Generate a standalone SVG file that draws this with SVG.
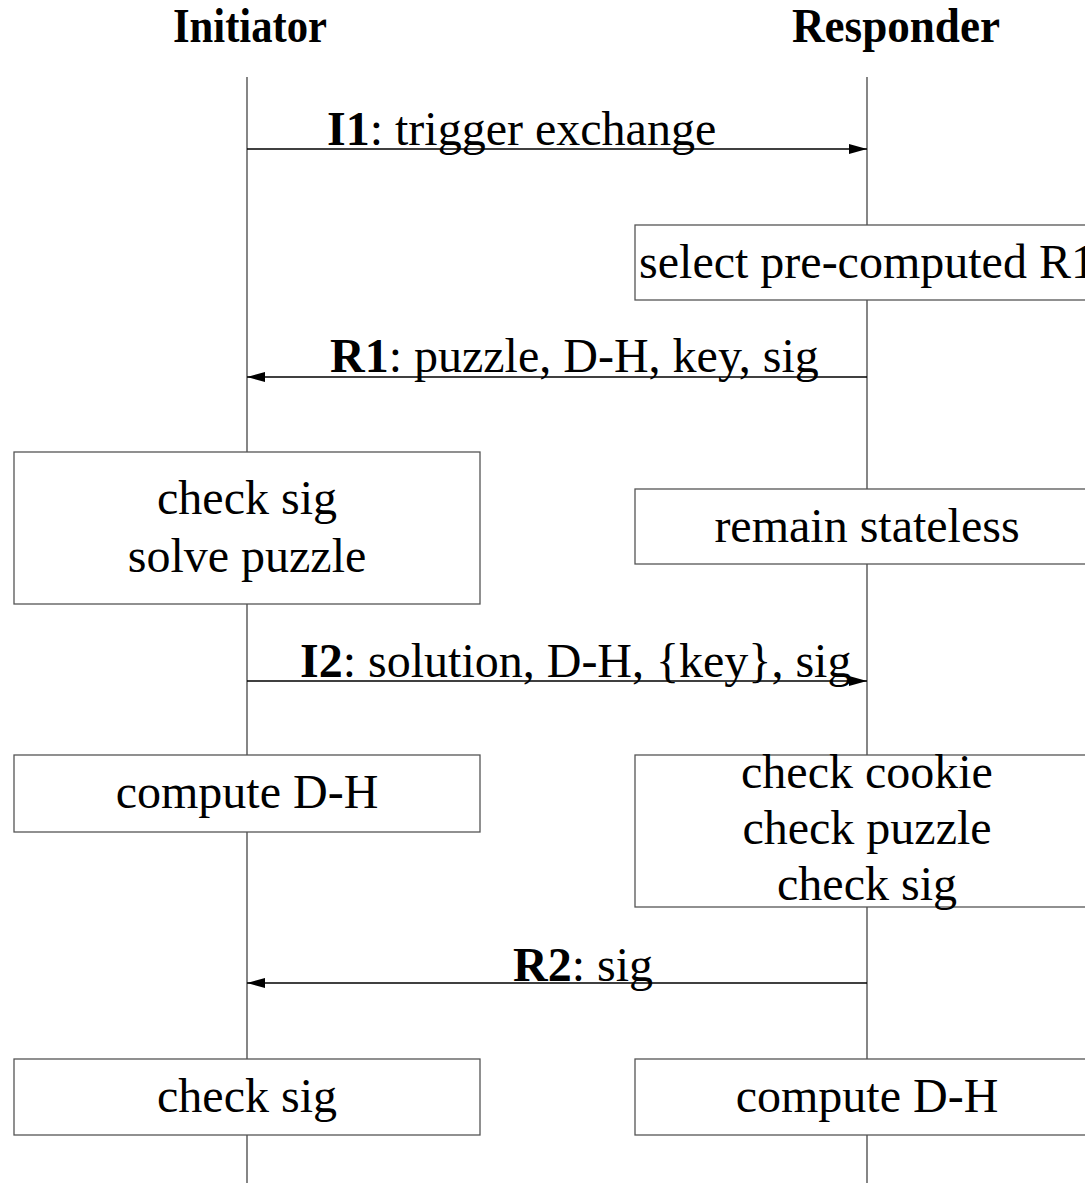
<svg xmlns="http://www.w3.org/2000/svg" width="1085" height="1183" viewBox="0 0 1085 1183">
<defs>
<style>
.title{font-family:"Liberation Serif","Times New Roman",serif;font-weight:bold;font-size:48px;fill:#000}
.lbl{font-family:"Liberation Serif","Times New Roman",serif;font-size:48px;fill:#000}
.b{font-weight:bold}
.life{stroke:#444;stroke-width:1.3;fill:none}
.box{fill:#fff;stroke:#555;stroke-width:1.3}
.msg{stroke:#000;stroke-width:1.3;fill:none}
.txt{font-family:"Liberation Serif","Times New Roman",serif;font-size:48px;fill:#000;text-anchor:middle}
</style>
<marker id="ah" viewBox="0 0 18 10" refX="18" refY="5" markerWidth="18" markerHeight="10" markerUnits="userSpaceOnUse" orient="auto">
<path d="M0,0 L18,5 L0,10 Z" fill="#000"/>
</marker>
</defs>
<rect width="1085" height="1183" fill="#fff"/>
<g id="lifelines">
<line class="life" x1="247" y1="77" x2="247" y2="1183"/>
<line class="life" x1="867" y1="77" x2="867" y2="1183"/>
</g>
<g id="titles">
<text class="title" x="173" y="42" textLength="154" lengthAdjust="spacingAndGlyphs">Initiator</text>
<text class="title" x="792" y="42" textLength="208" lengthAdjust="spacingAndGlyphs">Responder</text>
</g>
<g id="nodes">
<g id="r-select"><rect class="box" x="635" y="225" width="465" height="75"/><text class="txt" x="867" y="278">select pre-computed R1</text></g>
<g id="i-checksolve"><rect class="box" x="14" y="452" width="466" height="152"/><text class="txt" x="247" y="514">check sig</text><text class="txt" x="247" y="572">solve puzzle</text></g>
<g id="r-stateless"><rect class="box" x="635" y="489" width="465" height="75"/><text class="txt" x="867" y="542">remain stateless</text></g>
<g id="i-compute"><rect class="box" x="14" y="755" width="466" height="77"/><text class="txt" x="247" y="808">compute D-H</text></g>
<g id="r-checks"><rect class="box" x="635" y="755" width="465" height="152"/><text class="txt" x="867" y="788">check cookie</text><text class="txt" x="867" y="844">check puzzle</text><text class="txt" x="867" y="900">check sig</text></g>
<g id="i-checksig"><rect class="box" x="14" y="1059" width="466" height="76"/><text class="txt" x="247" y="1112">check sig</text></g>
<g id="r-compute"><rect class="box" x="635" y="1059" width="465" height="76"/><text class="txt" x="867" y="1112">compute D-H</text></g>
</g>
<g id="connectors">
<line class="msg" x1="247" y1="149" x2="867" y2="149" marker-end="url(#ah)"/>
<line class="msg" x1="867" y1="377" x2="247" y2="377" marker-end="url(#ah)"/>
<line class="msg" x1="247" y1="681" x2="867" y2="681" marker-end="url(#ah)"/>
<line class="msg" x1="867" y1="983" x2="247" y2="983" marker-end="url(#ah)"/>
</g>
<g id="labels">
<text class="lbl" x="327" y="145"><tspan class="b">I1</tspan>: trigger exchange</text>
<text class="lbl" x="330" y="372"><tspan class="b">R1</tspan>: puzzle, D-H, key, sig</text>
<text class="lbl" x="300" y="677"><tspan class="b">I2</tspan>: solution, D-H, {key}, sig</text>
<text class="lbl" x="513" y="981"><tspan class="b">R2</tspan>: sig</text>
</g>
</svg>
